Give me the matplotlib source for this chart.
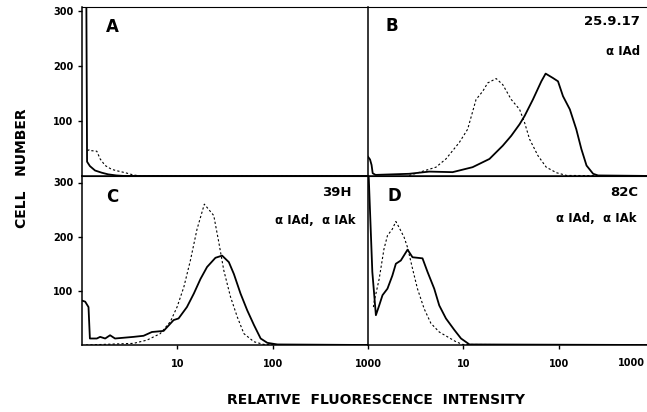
import matplotlib
matplotlib.use("Agg")
import matplotlib.pyplot as plt

plt.rcParams['font.family'] = ['DejaVu Sans']
plt.rcParams['font.weight'] = 'bold'

# panel A: unstained / control
a_solid_x = [1.0, 1.11, 1.13, 1.21, 1.37, 1.61, 1.88, 2.29, 2.8, 1000]
a_solid_y = [330, 330, 26, 18, 10, 6, 3, 1, 0, 0]
a_dot_x = [1.14, 1.2, 1.26, 1.43, 1.55, 1.75, 2.05, 2.39, 2.84, 3.44, 4.1, 1000]
a_dot_y = [46, 48, 46, 45, 31, 19, 12, 9, 6, 2, 0, 0]

# panel B: 25.9.17
b_solid_x = [1.0, 1.05, 1.09, 1.12, 1.2, 2.7, 4.39, 7.72, 12.5, 18.8, 25.9, 31.8,
             38.9, 43.9, 53.7, 65.8, 73.0, 87.1, 98.4, 111, 131, 153, 173, 196,
             230, 259, 1000]
b_solid_y = [35, 30, 20, 5, 2, 4, 8, 7, 16, 31, 55, 73, 94, 109, 139, 172, 186,
             178, 172, 145, 121, 85, 49, 19, 4, 1, 0]
b_dot_x = [2.7, 5.16, 6.57, 9.08, 11.1, 13.6, 16.0, 18.0, 22.1, 25.9, 31.8, 38.9,
           43.9, 49.5, 60.6, 74.1, 94.6, 121, 1000]
b_dot_y = [1, 16, 31, 61, 85, 139, 154, 169, 177, 166, 139, 121, 97, 67, 37, 16,
           6, 1, 0]

# panel C: 39H
c_solid_x = [1.0, 1.08, 1.17, 1.21, 1.43, 1.55, 1.75, 1.97, 2.22, 3.47, 4.42, 5.41,
             7.18, 9.14, 10.3, 12.6, 14.9, 17.5, 20.5, 25.1, 29.5, 34.7, 39.2,
             46.0, 54.1, 63.6, 74.8, 87.9, 112, 1000]
c_solid_y = [82, 80, 70, 12, 12, 15, 12, 18, 12, 15, 17, 24, 26, 46, 49, 70, 95,
             122, 144, 161, 165, 153, 131, 95, 64, 37, 12, 4, 1, 0]
c_dot_x = [1.1, 3.47, 4.8, 6.62, 8.44, 9.93, 11.7, 13.7, 16.1, 19.2, 24.1, 27.2,
           30.7, 36.1, 42.5, 49.9, 63.6, 81, 1000]
c_dot_y = [0, 3, 9, 21, 43, 70, 107, 156, 214, 260, 239, 190, 138, 89, 52, 21, 6,
           1, 0]

# panel D: 82C
d_solid_x = [1.0, 1.02, 1.11, 1.21, 1.31, 1.42, 1.6, 1.8, 1.96, 2.21, 2.6, 2.93,
             3.73, 4.21, 4.95, 5.59, 6.57, 8.03, 9.46, 11.6, 1000]
d_solid_y = [330, 306, 135, 55, 73, 92, 104, 128, 150, 156, 176, 162, 160, 135,
             104, 73, 49, 28, 12, 1, 0]
d_dot_x = [1.14, 1.16, 1.31, 1.47, 1.6, 1.8, 1.96, 2.12, 2.39, 2.6, 2.93, 3.3,
           3.88, 4.57, 5.59, 6.84, 8.38, 9.84, 1000]
d_dot_y = [70, 80, 122, 177, 202, 214, 228, 217, 199, 180, 141, 104, 67, 40, 24,
           15, 6, 1, 0]

letters = ['A', 'B', 'C', 'D']
clone_names = ['', '25.9.17', '39H', '82C']
antibodies = ['', 'α IAd', 'α IAd,  α IAk', 'α IAd,  α IAk']
y_ticks = [100, 200, 300]
x_ticks = [10, 100, 1000]

# label positions in axes fraction, per panel
letter_pos = [(0.105, 0.88), (0.084, 0.887), (0.105, 0.876), (0.091, 0.88)]
name_pos = [None, (0.951, 0.917), (0.944, 0.9), (0.945, 0.9)]
ab_pos = [None, (0.951, 0.734), (0.955, 0.734), (0.94, 0.75)]

fig = plt.figure(figsize=(6.47, 4.12), dpi=100)

W, H = 647.0, 412.0
left_px, mid_px, right_px = 82, 368, 654
top_px, split_px, bot_px = 7, 176, 345

boxes = [
    (left_px, mid_px, top_px, split_px),
    (mid_px, right_px, top_px, split_px),
    (left_px, mid_px, split_px, bot_px),
    (mid_px, right_px, split_px, bot_px),
]
data = [
    (a_solid_x, a_solid_y, a_dot_x, a_dot_y),
    (b_solid_x, b_solid_y, b_dot_x, b_dot_y),
    (c_solid_x, c_solid_y, c_dot_x, c_dot_y),
    (d_solid_x, d_solid_y, d_dot_x, d_dot_y),
]

for i, ((x0, x1, y0, y1), (sx, sy, dx, dy)) in enumerate(zip(boxes, data)):
    ax = fig.add_axes([x0 / W, 1 - y1 / H, (x1 - x0) / W, (y1 - y0) / H])
    ax.plot(sx, sy, color='black', lw=1.3, solid_joinstyle='round')
    ax.plot(dx, dy, color='black', lw=0.8, linestyle=(0, (2, 2)))
    ax.set_xscale('log')
    ax.set_xlim(1, 1000)
    ax.set_ylim(0, 307 if i < 2 else 312)
    ax.minorticks_off()
    for sp in ax.spines.values():
        sp.set_linewidth(1.1)
    ax.spines['right'].set_visible(False)
    ax.spines['top'].set_linewidth(0.8)

    if i % 2 == 0:
        ax.set_yticks(y_ticks)
        ax.set_yticklabels([str(t) for t in y_ticks])
    else:
        ax.set_yticks([])
    if i >= 2:
        ax.set_xticks(x_ticks)
        labels = [str(t) for t in x_ticks]
        if i == 3:
            # last label of the right panel falls on the figure edge, drawn below
            labels[-1] = ''
        ax.set_xticklabels(labels)
    else:
        ax.set_xticks([])
    ax.tick_params(axis='both', direction='out', length=3, width=1,
                   labelsize=7, pad=3)
    ax.tick_params(axis='x', pad=7)

    lx, ly = letter_pos[i]
    ax.text(lx, ly, letters[i], transform=ax.transAxes, fontsize=12,
            fontweight='bold', ha='center', va='center')
    if clone_names[i]:
        nx, ny = name_pos[i]
        ax.text(nx, ny, clone_names[i], transform=ax.transAxes, fontsize=9.5,
                fontweight='bold', ha='right', va='center')
        bx, by = ab_pos[i]
        ax.text(bx, by, antibodies[i], transform=ax.transAxes, fontsize=8.5,
                fontweight='bold', ha='right', va='center')

fig.text(645 / W, 1 - 363.5 / H, str(x_ticks[-1]), fontsize=7, fontweight='bold',
         ha='right', va='center')

fig.text(0.034, 0.592, 'CELL   NUMBER', rotation=90, fontsize=10,
         fontweight='bold', ha='center', va='center')
fig.text(0.581, 0.029, 'RELATIVE  FLUORESCENCE  INTENSITY', fontsize=10,
         fontweight='bold', ha='center', va='center')

fig.savefig('out.png', dpi=100)
